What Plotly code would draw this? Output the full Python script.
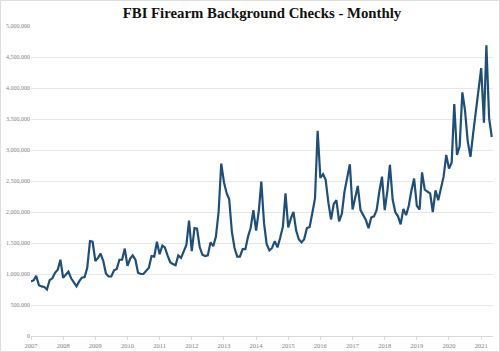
import pandas as pd
import plotly.graph_objects as go

# Monthly NICS background checks (millions)
y2007 = [0.88, 0.90, 0.97, 0.82, 0.80, 0.79, 0.75, 0.90, 0.93, 1.02, 1.07, 1.23]
y2008 = [0.94, 1.00, 1.04, 0.93, 0.87, 0.80, 0.88, 0.94, 0.95, 1.10, 1.53, 1.52]
y2009 = [1.21, 1.26, 1.33, 1.21, 1.01, 0.96, 0.96, 1.06, 1.08, 1.23, 1.23, 1.41]
y2010 = [1.13, 1.25, 1.30, 1.23, 1.02, 1.00, 1.00, 1.05, 1.10, 1.29, 1.28, 1.52]
y2011 = [1.32, 1.46, 1.43, 1.30, 1.19, 1.16, 1.14, 1.30, 1.26, 1.36, 1.47, 1.86]
y2012 = [1.37, 1.74, 1.73, 1.43, 1.31, 1.29, 1.30, 1.51, 1.45, 1.60, 2.00, 2.78]
y2013 = [2.48, 2.30, 2.21, 1.68, 1.42, 1.28, 1.28, 1.40, 1.40, 1.60, 1.75, 2.03]
y2014 = [1.70, 2.02, 2.49, 1.82, 1.48, 1.38, 1.42, 1.53, 1.43, 1.58, 1.76, 2.30]
y2015 = [1.75, 1.90, 2.00, 1.70, 1.56, 1.51, 1.56, 1.74, 1.76, 1.98, 2.22, 3.31]
y2016 = [2.55, 2.61, 2.52, 2.15, 1.88, 2.13, 2.19, 1.85, 1.97, 2.33, 2.56, 2.77]
y2017 = [2.04, 2.24, 2.42, 2.03, 1.94, 1.87, 1.74, 1.91, 1.93, 2.03, 2.33, 2.57]
y2018 = [2.03, 2.35, 2.76, 2.20, 2.00, 1.93, 1.80, 2.05, 1.95, 2.10, 2.35, 2.54]
y2019 = [2.10, 2.04, 2.64, 2.36, 2.33, 2.30, 2.00, 2.35, 2.19, 2.37, 2.57, 2.92]
y2020 = [2.70, 2.80, 3.74, 2.92, 3.06, 3.93, 3.64, 3.14, 2.89, 3.26, 3.63, 3.94]
y2021 = [4.32, 3.44, 4.69, 3.51, 3.21]

years = [y2007, y2008, y2009, y2010, y2011, y2012, y2013, y2014,
         y2015, y2016, y2017, y2018, y2019, y2020, y2021]
values = [v * 1_000_000 for yr in years for v in yr]
dates = pd.date_range("2007-01-01", periods=len(values), freq="MS")

title_text = "FBI Firearm Background Checks - Monthly"
tick_years = [str(y) for y in range(2007, 2022)]

W, H = 500, 352
ML, MR, MT, MB = 31, 7, 26, 16
PW, PH = W - ML - MR, H - MT - MB

fig = go.Figure()
fig.add_trace(go.Scatter(
    x=dates, y=values, mode="lines",
    line=dict(color="#1F4E79", width=2.2),
    hoverinfo="skip", showlegend=False,
))

fig.update_layout(
    width=W, height=H,
    margin=dict(l=ML, r=MR, t=MT, b=MB, autoexpand=False),
    paper_bgcolor="white", plot_bgcolor="white",
    title=dict(text="<b>" + title_text + "</b>", x=0.5, xref="paper",
               y=1 - 12.5 / H, yanchor="middle",
               font=dict(family="Liberation Serif", size=14.8, color="#111111")),
    xaxis=dict(
        type="date", automargin=False,
        range=["2007-01-01", "2021-05-15"],
        tickvals=[f"{y}-01-01" for y in tick_years],
        ticktext=tick_years,
        showgrid=False, zeroline=False,
        showline=True, linecolor="#d9d9d9", linewidth=1,
        ticks="outside", ticklen=3, tickcolor="#d9d9d9",
        tickfont=dict(family="Liberation Serif", size=6.5, color="#7f7f7f"),
    ),
    yaxis=dict(
        automargin=False,
        range=[0, 5_000_000], dtick=500_000, tickformat=",d",
        showgrid=True, gridcolor="#e8e8e8", gridwidth=1,
        zeroline=False, showline=False, ticks="",
        tickfont=dict(family="Liberation Serif", size=6, color="#7f7f7f"),
    ),
    shapes=[dict(type="rect", xref="paper", yref="paper",
                 x0=(-ML + 0.5) / PW, x1=1 + (MR - 0.5) / PW,
                 y0=(-MB + 0.5) / PH, y1=1 + (MT - 0.5) / PH,
                 line=dict(color="#dedede", width=1), layer="below")],
)

fig.write_html("out.html")
